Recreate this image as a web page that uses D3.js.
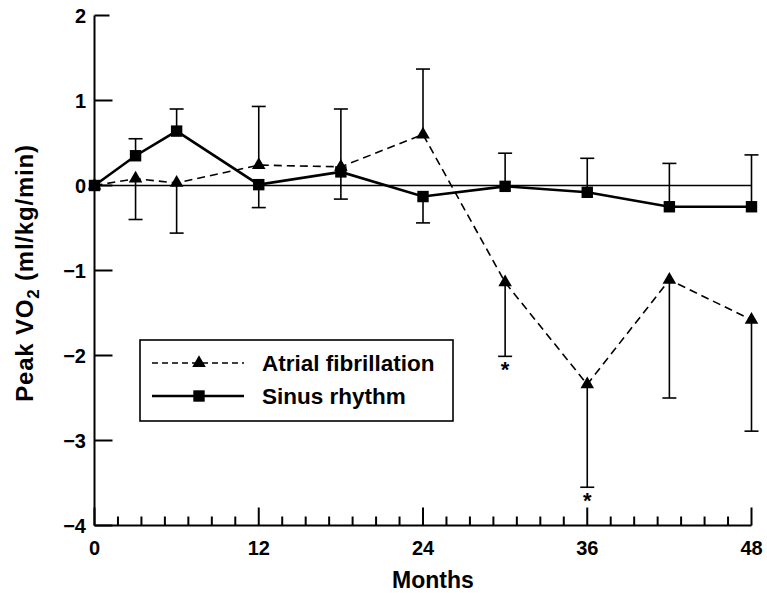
<!DOCTYPE html>
<html>
<head>
<meta charset="utf-8">
<script src="https://cdn.jsdelivr.net/npm/d3@7"></script>
<style>
  body { margin: 0; background: #fff; }
  text { font-family: "Liberation Sans", Arial, Helvetica, sans-serif; fill: #000; }
</style>
</head>
<body>
<div id="chart"></div>
<script>
// months at which peak VO2 was measured
var months = [0, 3, 6, 12, 18, 24, 30, 36, 42, 48];

// change in peak VO2 (ml/kg/min)
var af_values    = [0, 0.08, 0.03, 0.24, 0.22, 0.60, -1.14, -2.34, -1.11, -1.58];
var sinus_values = [0, 0.35, 0.64, 0.01, 0.16, -0.13, -0.01, -0.08, -0.25, -0.25];

// end of the one-sided error bar for each point (null = no bar)
var af_err_end    = [null, -0.40, -0.56, 0.93, 0.90, 1.37, -2.01, -3.55, -2.50, -2.89];
var sinus_err_end = [null, 0.55, 0.90, -0.26, -0.16, -0.44, 0.38, 0.32, 0.26, 0.36];

// significance marks
var af_signif = [false, false, false, false, false, false, true, true, false, false];

var y_ticks = [2, 1, 0, -1, -2, -3, -4];
var x_ticks = [0, 12, 24, 36, 48];

var width = 767, height = 593;

var svg = d3.select("#chart").append("svg")
    .attr("width", width)
    .attr("height", height);

var x = d3.scaleLinear().domain([0, 48]).range([94.5, 751.5]);
var y = d3.scaleLinear().domain([-4, 2]).range([525.5, 15.5]);

// axes drawn by hand like the printed figure (ticks point inwards)
var axis = svg.append("g").attr("stroke", "#000").attr("stroke-width", 2);

axis.append("line")
    .attr("x1", x(0)).attr("x2", x(0))
    .attr("y1", y(2)).attr("y2", y(-4));
axis.append("line")
    .attr("x1", x(0)).attr("x2", x(48))
    .attr("y1", y(-4)).attr("y2", y(-4));

axis.selectAll(".ytick")
    .data(y_ticks)
    .enter().append("line")
    .attr("x1", x(0))
    .attr("x2", function(d){ return d == 2 ? x(0) + 15 : x(0) + 18; })
    .attr("y1", function(d){ return y(d); })
    .attr("y2", function(d){ return y(d); });

// minor ticks: 7 intervals between every 12 months
var minor = d3.range(0, 29).map(function(i){ return i * 12 / 7; });
axis.selectAll(".xtick")
    .data(minor)
    .enter().append("line")
    .attr("x1", function(d){ return x(d); })
    .attr("x2", function(d){ return x(d); })
    .attr("y1", y(-4))
    .attr("y2", function(d, i){ return i % 7 == 0 ? y(-4) - 18 : y(-4) - 9; });

svg.selectAll(".ylab")
    .data(y_ticks)
    .enter().append("text")
    .attr("x", 86)
    .attr("y", function(d){ return y(d) + 7; })
    .attr("text-anchor", "end")
    .style("font-size", "20px")
    .style("font-weight", "bold")
    .text(function(d){ return d < 0 ? "\u2212" + Math.abs(d) : d; });

svg.selectAll(".xlab")
    .data(x_ticks)
    .enter().append("text")
    .attr("x", function(d){ return x(d); })
    .attr("y", 555)
    .attr("text-anchor", "middle")
    .style("font-size", "20px")
    .style("font-weight", "bold")
    .text(function(d){ return d; });

svg.append("text")
    .attr("x", 433)
    .attr("y", 588)
    .attr("text-anchor", "middle")
    .style("font-size", "23px")
    .style("font-weight", "bold")
    .text("Months");

var ylabel = svg.append("text")
    .attr("transform", "translate(33,273) rotate(-90)")
    .attr("text-anchor", "middle")
    .style("font-size", "24px")
    .style("letter-spacing", "0.8px")
    .style("font-weight", "bold");
ylabel.append("tspan").text("Peak VO");
ylabel.append("tspan").attr("dy", 6).style("font-size", "17px").text("2");
ylabel.append("tspan").attr("dy", -6).text(" (ml/kg/min)");

// reference line at zero
svg.append("line")
    .attr("x1", x(0)).attr("x2", x(48))
    .attr("y1", y(0)).attr("y2", y(0))
    .attr("stroke", "#000")
    .attr("stroke-width", 1.5);

var af = months.map(function(m, i){
    return {m: m, v: af_values[i], e: af_err_end[i], s: af_signif[i]};
});
var sinus = months.map(function(m, i){
    return {m: m, v: sinus_values[i], e: sinus_err_end[i]};
});

function errorBars(data){
    var g = svg.append("g").attr("stroke", "#000").attr("stroke-width", 1.6);
    var bars = data.filter(function(d){ return d.e != null; });
    g.selectAll(".bar").data(bars).enter().append("line")
        .attr("x1", function(d){ return x(d.m); })
        .attr("x2", function(d){ return x(d.m); })
        .attr("y1", function(d){ return y(d.v); })
        .attr("y2", function(d){ return y(d.e); });
    g.selectAll(".cap").data(bars).enter().append("line")
        .attr("x1", function(d){ return x(d.m) - 7; })
        .attr("x2", function(d){ return x(d.m) + 7; })
        .attr("y1", function(d){ return y(d.e); })
        .attr("y2", function(d){ return y(d.e); });
}
errorBars(af);
errorBars(sinus);

var line = d3.line()
    .x(function(d){ return x(d.m); })
    .y(function(d){ return y(d.v); });

svg.append("path")
    .datum(af)
    .attr("d", line)
    .attr("fill", "none")
    .attr("stroke", "#000")
    .attr("stroke-width", 1.6)
    .attr("stroke-dasharray", "8,5");

svg.append("path")
    .datum(sinus)
    .attr("d", line)
    .attr("fill", "none")
    .attr("stroke", "#000")
    .attr("stroke-width", 2.6);

var tri = d3.symbol().type(d3.symbolTriangle).size(80);
var sq = d3.symbol().type(d3.symbolSquare).size(130);

svg.selectAll(".tri")
    .data(af)
    .enter().append("path")
    .attr("d", tri)
    .attr("transform", function(d){ return "translate(" + x(d.m) + "," + y(d.v) + ")"; })
    .attr("fill", "#000");

svg.selectAll(".sq")
    .data(sinus)
    .enter().append("path")
    .attr("d", sq)
    .attr("transform", function(d){ return "translate(" + x(d.m) + "," + y(d.v) + ")"; })
    .attr("fill", "#000");

// asterisks under significant error bars
svg.selectAll(".star")
    .data(af.filter(function(d){ return d.s; }))
    .enter().append("text")
    .attr("x", function(d){ return x(d.m); })
    .attr("y", function(d){ return y(d.e) + 21; })
    .attr("text-anchor", "middle")
    .style("font-size", "22px")
    .style("font-weight", "bold")
    .text("*");

// legend
var legend = svg.append("g");
legend.append("rect")
    .attr("x", 140).attr("y", 340)
    .attr("width", 313).attr("height", 81)
    .attr("fill", "#fff")
    .attr("stroke", "#000")
    .attr("stroke-width", 1.6);

var entries = [
    {name: "Atrial fibrillation", dash: "6,4", w: 1.6, sym: tri, yy: 363},
    {name: "Sinus rhythm", dash: null, w: 2.6, sym: sq, yy: 396}
];
entries.forEach(function(e){
    legend.append("line")
        .attr("x1", 152).attr("x2", 244)
        .attr("y1", e.yy).attr("y2", e.yy)
        .attr("stroke", "#000")
        .attr("stroke-width", e.w)
        .attr("stroke-dasharray", e.dash);
    legend.append("path")
        .attr("d", e.sym)
        .attr("transform", "translate(199," + e.yy + ")");
    legend.append("text")
        .attr("x", 262)
        .attr("y", e.yy + 8)
        .style("font-size", "22.5px")
        .style("font-weight", "bold")
        .text(e.name);
});
</script>
</body>
</html>
